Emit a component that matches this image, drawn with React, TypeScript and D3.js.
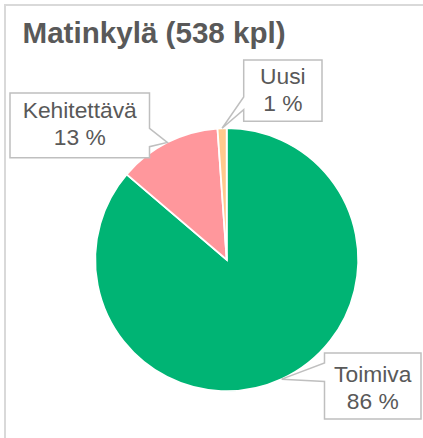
import React from "react";
import * as d3 from "d3";

const categories = ["Toimiva", "Kehitettävä", "Uusi"];
const counts = [464, 68, 6];
const percentLabels = ["86 %", "13 %", "1 %"];
const colors = ["#00B474", "#FF979C", "#FFC98D"];
const title = "Matinkylä (538 kpl)";

// callout layout (box + pointer) per category
const callouts = [
  { box: [324.5, 353, 421, 419], side: "left", w1: 363, w2: 381.5, textY: 382 },
  { box: [10, 93, 149.5, 157.7], side: "right", w1: 128.3, w2: 146.7, textY: 118 },
  { box: [243.7, 60, 322, 121.3], side: "left", w1: 97, w2: 109.7, textY: 84 },
];

const W = 423;
const H = 438;
const cx = 226.7;
const cy = 259.7;
const R = 131.5;

export default function App() {
  const total = d3.sum(counts);
  const pie = d3.pie<number>().sort(null).value((d) => d).startAngle(0).endAngle(2 * Math.PI);
  const arcs = pie(counts);
  const arcGen = d3.arc<d3.PieArcDatum<number>>().innerRadius(0).outerRadius(R);

  const calloutPath = (i: number) => {
    const c = callouts[i];
    const [x0, y0, x1, y1] = c.box;
    const a = arcs[i];
    let ang = (a.startAngle + a.endAngle) / 2;
    if (i === 0) ang = Math.PI - Math.asin(55 / R);
    if (i === 1) ang = 2 * Math.PI - Math.asin(59.4 / R);
    const ax = cx + R * Math.sin(ang);
    const ay = cy - R * Math.cos(ang);
    if (c.side === "left") {
      return `M${x0},${y0}H${x1}V${y1}H${x0}V${c.w2}L${ax},${ay}L${x0},${c.w1}Z`;
    }
    return `M${x0},${y0}H${x1}V${c.w1}L${ax},${ay}L${x1},${c.w2}V${y1}H${x0}Z`;
  };

  return (
    <svg
      width={W}
      height={H}
      style={{ position: "absolute", left: 0, top: 0, fontFamily: "'Liberation Sans', Arial, sans-serif" }}
    >
      <rect x={0} y={0} width={W} height={H} fill="#ffffff" />
      <rect x={5} y={5} width={440} height={460} fill="none" stroke="#d9d9d9" strokeWidth={2} />
      <text x={22.5} y={43} fontSize={29.6} fontWeight="bold" fill="#595959">
        {title}
      </text>
      <g transform={`translate(${cx},${cy})`}>
        {arcs.map((a, i) => (
          <path key={categories[i]} d={arcGen(a) || ""} fill={colors[i]} stroke="#ffffff" strokeWidth={1.8} />
        ))}
      </g>
      {categories.map((cat, i) => {
        const c = callouts[i];
        const mx = (c.box[0] + c.box[2]) / 2;
        const pct = Math.round((counts[i] / total) * 100);
        return (
          <g key={cat}>
            <path d={calloutPath(i)} fill="#ffffff" stroke="#bfbfbf" strokeWidth={1.5} />
            <text x={mx} y={c.textY} textAnchor="middle" fontSize={22.8} fill="#595959">
              {cat}
            </text>
            <text x={mx} y={c.textY + 27} textAnchor="middle" fontSize={22.8} fill="#595959">
              {percentLabels[i] || `${pct} %`}
            </text>
          </g>
        );
      })}
    </svg>
  );
}
